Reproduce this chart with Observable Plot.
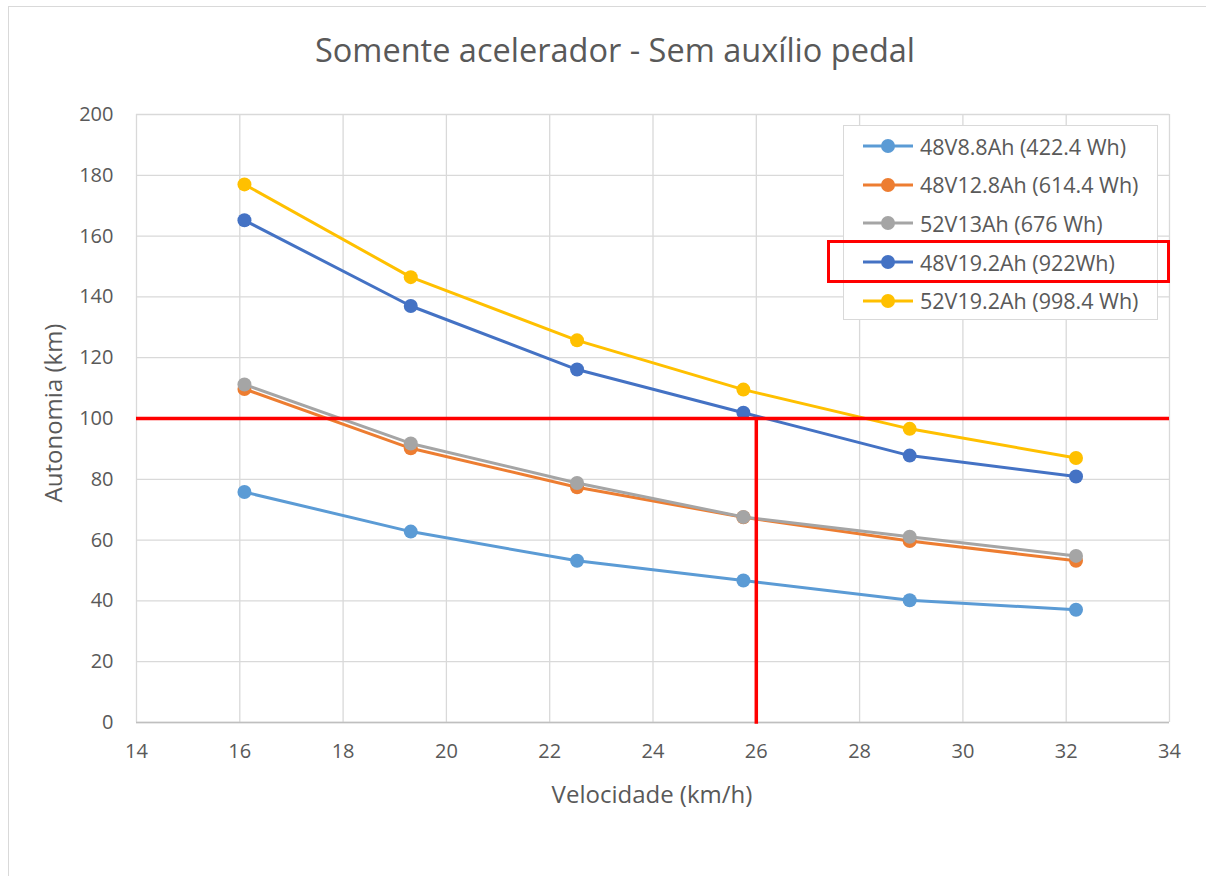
<!DOCTYPE html>
<html>
<head>
<meta charset="utf-8">
<script src="https://cdn.jsdelivr.net/npm/d3@7"></script>
<script src="https://cdn.jsdelivr.net/npm/@observablehq/plot@0.6"></script>
<style>
  body { margin: 0; background: #fff; }
  #chart { position: relative; width: 1206px; height: 876px; overflow: hidden; font-family: "Open Sans", sans-serif; color: #595959; }
  #chart svg { position: absolute; left: 0; top: 0; }
  .border { position: absolute; left: 8px; top: 6px; width: 1300px; height: 1000px; border: 1.5px solid #D9D9D9; box-sizing: border-box; }
  .title { position: absolute; left: 0; width: 1230px; top: 27px; text-align: center; font-size: 32.5px; line-height: 46px; }
  .ylab { position: absolute; left: 52px; top: 413px; transform: translate(-50%, -50%) rotate(-90deg); font-size: 24px; white-space: nowrap; }
  .xlab { position: absolute; left: 652px; top: 793px; transform: translate(-50%, -50%); font-size: 24px; white-space: nowrap; }
  .legend { position: absolute; left: 843px; top: 125px; width: 315px; height: 195px; border: 1px solid #D9D9D9; box-sizing: border-box; background: #fff; }
  .item { position: absolute; left: 18px; height: 30px; display: flex; align-items: center; font-size: 21.5px; white-space: nowrap; }
  .item svg { position: static !important; margin-right: 6px; }
  .redbox { position: absolute; left: 827px; top: 240px; width: 343px; height: 43px; border: 3px solid #FF0000; box-sizing: border-box; }
</style>
</head>
<body>
<div id="chart"></div>
<script>
const titleText = "Somente acelerador - Sem auxílio pedal";
const xLabel = "Velocidade (km/h)";
const yLabel = "Autonomia (km)";
const speeds = [16.09, 19.31, 22.53, 25.75, 28.97, 32.19];
const seriesNames = ["48V8.8Ah (422.4 Wh)", "48V12.8Ah (614.4 Wh)", "52V13Ah (676 Wh)", "48V19.2Ah (922Wh)", "52V19.2Ah (998.4 Wh)"];
const seriesColors = ["#5B9BD5", "#ED7D31", "#A5A5A5", "#4472C4", "#FFC000"];
const s1 = [75.8, 62.8, 53.2, 46.7, 40.2, 37.1];
const s2 = [109.7, 90.2, 77.4, 67.5, 59.7, 53.2];
const s3 = [111.2, 91.8, 78.8, 67.6, 61.1, 54.8];
const s4 = [165.2, 137.0, 116.1, 101.9, 87.8, 80.9];
const s5 = [177.0, 146.5, 125.7, 109.5, 96.6, 87.0];
const seriesValues = [s1, s2, s3, s4, s5];
const xTicks = [14, 16, 18, 20, 22, 24, 26, 28, 30, 32, 34];
const yTicks = [0, 20, 40, 60, 80, 100, 120, 140, 160, 180, 200];
const refY = 100;
const refX = 26;

const rows = [];
seriesValues.forEach((vals, i) => vals.forEach((v, j) => rows.push({series: seriesNames[i], idx: i, x: speeds[j], y: v})));

const marks = [
  Plot.gridX(xTicks, {stroke: "#D9D9D9", strokeOpacity: 1, strokeWidth: 1.3}),
  Plot.gridY(yTicks, {stroke: "#D9D9D9", strokeOpacity: 1, strokeWidth: 1.3}),
  Plot.ruleY([0], {stroke: "#BFBFBF", strokeWidth: 1.3}),
  Plot.axisX(xTicks, {tickSize: 0, tickPadding: 21, fontSize: 20, fill: "#595959", label: null}),
  Plot.axisY(yTicks, {tickSize: 0, tickPadding: 23, fontSize: 20, fill: "#595959", label: null})
];
seriesNames.forEach((name, i) => {
  const d = rows.filter(r => r.idx === i);
  marks.push(Plot.line(d, {x: "x", y: "y", stroke: seriesColors[i], strokeWidth: 3}));
  marks.push(Plot.dot(d, {x: "x", y: "y", fill: seriesColors[i], r: 7}));
});
marks.push(Plot.ruleY([refY], {stroke: "#FF0000", strokeWidth: 3.5}));
marks.push(Plot.ruleX([refX], {y1: -0.6, y2: refY, stroke: "#FF0000", strokeWidth: 3.5}));

const plot = Plot.plot({
  width: 1206, height: 876,
  marginLeft: 136, marginRight: 37, marginTop: 114, marginBottom: 154,
  x: {domain: [14, 34]},
  y: {domain: [0, 200]},
  style: {fontFamily: "Open Sans, sans-serif", background: "transparent", overflow: "visible"},
  marks
});

const chart = document.getElementById("chart");
const border = document.createElement("div"); border.className = "border"; chart.appendChild(border);
chart.appendChild(plot);
const t = document.createElement("div"); t.className = "title"; t.textContent = titleText; chart.appendChild(t);
const yl = document.createElement("div"); yl.className = "ylab"; yl.textContent = yLabel; chart.appendChild(yl);
const xl = document.createElement("div"); xl.className = "xlab"; xl.textContent = xLabel; chart.appendChild(xl);
const leg = document.createElement("div"); leg.className = "legend";
seriesNames.forEach((name, i) => {
  const it = document.createElement("div"); it.className = "item";
  it.style.top = (20 + i * 38.7 - 15) + "px";
  it.innerHTML = `<svg width="52" height="16"><line x1="1" y1="8" x2="51" y2="8" stroke="${seriesColors[i]}" stroke-width="3"/><circle cx="26" cy="8" r="7" fill="${seriesColors[i]}"/></svg><span></span>`;
  it.querySelector("span").textContent = name;
  leg.appendChild(it);
});
chart.appendChild(leg);
const rb = document.createElement("div"); rb.className = "redbox"; chart.appendChild(rb);
</script>
</body>
</html>
